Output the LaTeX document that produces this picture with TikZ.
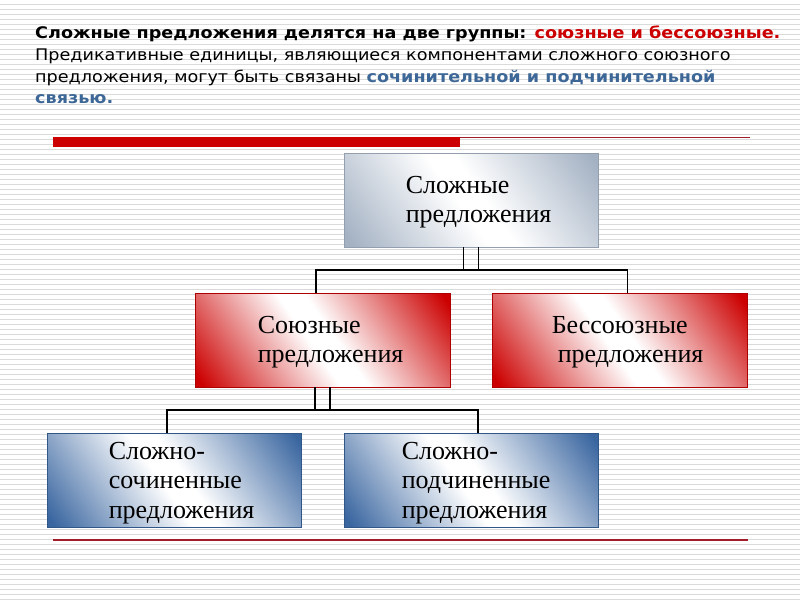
\documentclass[tikz,border=0pt]{standalone}
\usepackage{fontspec}
\setmainfont{Liberation Serif}
\newfontfamily\titlefont[FakeStretch=1.1]{DejaVu Sans}
\definecolor{redc}{HTML}{CC0000}
\definecolor{bluec}{HTML}{3A66A0}
\definecolor{grayc}{HTML}{A3B1C3}
\definecolor{titleblue}{HTML}{3D6796}
\definecolor{linered}{HTML}{A11D2B}
\definecolor{bgl}{HTML}{DADADA}
\pgfdeclarehorizontalshading{redsh}{100bp}{color(0bp)=(redc); color(17bp)=(redc); color(47bp)=(white); color(53bp)=(white); color(83bp)=(redc); color(100bp)=(redc)}
\pgfdeclarehorizontalshading{bluesh}{100bp}{color(0bp)=(bluec); color(17bp)=(bluec); color(47bp)=(white); color(53bp)=(white); color(83bp)=(bluec); color(100bp)=(bluec)}
\pgfdeclarehorizontalshading{graysh}{100bp}{color(0bp)=(grayc); color(17bp)=(grayc); color(47bp)=(white); color(53bp)=(white); color(83bp)=(grayc); color(100bp)=(grayc)}
\begin{document}
\begin{tikzpicture}[x=1pt,y=-1pt,
  conn/.style={draw=black, line width=1.2pt},
  tline/.style={font=\titlefont\fontsize{16}{19}\selectfont, inner sep=0, anchor=base west},
  box/.style={rectangle, minimum width=255pt, minimum height=94pt, inner sep=0, line width=0.8pt, shade, shading angle=35},
  redbox/.style={box, draw=redc!85!black, shading=redsh},
  bluebox/.style={box, draw=bluec!85!black, shading=bluesh},
  graybox/.style={box, draw=grayc!90!black, shading=graysh},
  boxtext/.style={font=\fontsize{26}{29.5}\selectfont, align=left, inner sep=0, anchor=west}]
\useasboundingbox (0,0) rectangle (800,600);
\fill[white] (0,0) rectangle (800,600);
\foreach \y in {4,9,...,599} \draw[bgl, line width=1pt] (0,\y) -- (800,\y);
% title
\node[tline] (t1) at (35,38) {\textbf{Сложные предложения делятся на две группы: }\textcolor{redc}{\textbf{союзные и бессоюзные.}}};
\node[tline] (t2) at (35,60) {Предикативные единицы, являющиеся компонентами сложного союзного};
\node[tline] (t3) at (35,82) {предложения, могут быть связаны \textcolor{titleblue}{\textbf{сочинительной и подчинительной}}};
\node[tline] (t4) at (35,103) {\textcolor{titleblue}{\textbf{связью.}}};
% rules
\fill[redc] (53,137) rectangle (460,147);
\draw[linered, line width=1.3pt] (460,137.5) -- (750,137.5);
\draw[linered, line width=1.3pt] (53,540) -- (748,540);
% boxes
\node[graybox, minimum width=254pt] (top) at (471,200) {};
\node[redbox] (soy) at (322.5,340) {};
\node[redbox] (bes) at (619.5,340) {};
\node[bluebox, minimum width=254pt] (soch) at (174,480) {};
\node[bluebox, minimum width=254pt] (podch) at (471,480) {};
% texts
\node[boxtext] (topt) at ([xshift=62pt,yshift=-2pt]top.west) {Сложные\\предложения};
\node[boxtext] (soyt) at ([xshift=63pt,yshift=-2pt]soy.west) {Союзные\\предложения};
\node[boxtext] (best) at ([xshift=60pt,yshift=-2pt]bes.west) {Бессоюзные\\\hspace*{6pt}предложения};
\node[boxtext] (socht) at ([xshift=62pt,yshift=-3pt]soch.west) {Сложно-\\сочиненные\\предложения};
\node[boxtext] (podcht) at ([xshift=58pt,yshift=-3pt]podch.west) {Сложно-\\подчиненные\\предложения};
% connectors upper
\coordinate (busA) at (471,270);
\coordinate (a1) at ([xshift=-7.5pt]top.south);
\coordinate (a2) at ([xshift=7.5pt]top.south);
\coordinate (a3) at ([xshift=-6.5pt]soy.north);
\coordinate (a4) at ([xshift=8pt]bes.north);
\draw[conn] (a1) -- (a1 |- busA);
\draw[conn] (a2) -- (a2 |- busA);
\draw[conn] (a3) |- (busA) -| (a4);
% connectors lower
\coordinate (busB) at (322,410);
\coordinate (b1) at ([xshift=-7.5pt]soy.south);
\coordinate (b2) at ([xshift=7.5pt]soy.south);
\coordinate (b3) at ([xshift=-7pt]soch.north);
\coordinate (b4) at ([xshift=7pt]podch.north);
\draw[conn] (b1) -- (b1 |- busB);
\draw[conn] (b2) -- (b2 |- busB);
\draw[conn] (b3) |- (busB) -| (b4);
\end{tikzpicture}
\end{document}
